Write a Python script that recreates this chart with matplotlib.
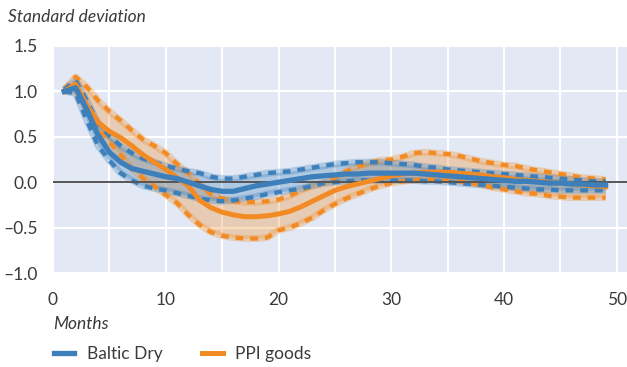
import numpy as np
import matplotlib.pyplot as plt

plt.rcParams['font.family'] = ['Lato', 'DejaVu Sans']

months = np.arange(1, 50)

# Baltic Dry index response: central estimate and band
bd_mid = [1.00, 1.04, 0.80, 0.52, 0.33, 0.22, 0.15, 0.12, 0.09, 0.06,
          0.04, 0.00, -0.04, -0.08, -0.10, -0.10, -0.07, -0.04, -0.02, 0.00,
          0.02, 0.04, 0.06, 0.07, 0.08, 0.09, 0.09, 0.10, 0.10, 0.10,
          0.10, 0.10, 0.09, 0.08, 0.07, 0.06, 0.05, 0.04, 0.03, 0.02,
          0.01, 0.01, 0.00, -0.01, -0.01, -0.02, -0.02, -0.03, -0.03]
bd_hi = [1.02, 1.12, 0.90, 0.65, 0.51, 0.40, 0.32, 0.26, 0.22, 0.18,
         0.15, 0.12, 0.10, 0.06, 0.04, 0.04, 0.06, 0.08, 0.10, 0.11,
         0.12, 0.14, 0.16, 0.18, 0.20, 0.21, 0.22, 0.22, 0.22, 0.21,
         0.20, 0.19, 0.17, 0.16, 0.14, 0.13, 0.12, 0.11, 0.10, 0.09,
         0.08, 0.07, 0.06, 0.05, 0.04, 0.03, 0.02, 0.01, 0.01]
bd_lo = [1.00, 0.98, 0.68, 0.40, 0.24, 0.10, 0.02, -0.04, -0.07, -0.09,
         -0.12, -0.15, -0.18, -0.20, -0.21, -0.20, -0.18, -0.16, -0.13, -0.11,
         -0.09, -0.07, -0.04, -0.01, 0.00, 0.01, 0.02, 0.02, 0.02, 0.02,
         0.02, 0.02, 0.01, 0.01, 0.00, -0.01, -0.02, -0.03, -0.04, -0.05,
         -0.06, -0.07, -0.08, -0.08, -0.09, -0.09, -0.09, -0.09, -0.09]

# PPI goods response
ppi_mid = [1.00, 1.08, 0.85, 0.66, 0.56, 0.49, 0.40, 0.30, 0.22, 0.14,
           0.05, -0.04, -0.20, -0.28, -0.33, -0.36, -0.38, -0.38, -0.37, -0.35,
           -0.32, -0.27, -0.21, -0.15, -0.09, -0.05, -0.02, 0.01, 0.04, 0.07,
           0.09, 0.10, 0.11, 0.11, 0.11, 0.10, 0.09, 0.08, 0.06, 0.05,
           0.03, 0.02, 0.01, 0.00, -0.01, -0.02, -0.03, -0.04, -0.05]
ppi_hi = [1.02, 1.16, 1.05, 0.90, 0.78, 0.68, 0.57, 0.47, 0.40, 0.32,
          0.20, 0.10, -0.02, -0.13, -0.18, -0.21, -0.22, -0.22, -0.21, -0.19,
          -0.15, -0.09, -0.04, -0.01, 0.05, 0.12, 0.17, 0.21, 0.24, 0.25,
          0.28, 0.32, 0.33, 0.32, 0.31, 0.29, 0.26, 0.23, 0.21, 0.19,
          0.18, 0.15, 0.13, 0.11, 0.09, 0.07, 0.05, 0.04, 0.03]
ppi_lo = [1.00, 1.00, 0.80, 0.60, 0.44, 0.30, 0.15, 0.04, -0.05, -0.14,
          -0.23, -0.36, -0.47, -0.55, -0.59, -0.61, -0.62, -0.62, -0.61, -0.53,
          -0.50, -0.45, -0.39, -0.31, -0.24, -0.18, -0.13, -0.08, -0.04, -0.01,
          0.01, 0.02, 0.03, 0.03, 0.02, 0.01, -0.01, -0.03, -0.06, -0.08,
          -0.10, -0.12, -0.13, -0.15, -0.16, -0.17, -0.17, -0.17, -0.17]

blue = '#3d7fba'
orange = '#f28b24'
txt = '#3a3a3a'

fig = plt.figure(figsize=(6.27, 3.67), dpi=100)
ax = fig.add_axes([53/627, 1 - 273/367, 1 - 53/627, (273 - 46)/367])
ax.set_facecolor('#e3e9f4')

dash = (0, (1.8, 1.6))
for mid, hi, lo, c in [(ppi_mid, ppi_hi, ppi_lo, orange), (bd_mid, bd_hi, bd_lo, blue)]:
    ax.fill_between(months, lo, hi, color=c, alpha=0.3, lw=0)
    ax.plot(months, hi, color=c, alpha=0.3, lw=5, solid_capstyle='butt')
    ax.plot(months, lo, color=c, alpha=0.3, lw=5, solid_capstyle='butt')
for mid, hi, lo, c in [(ppi_mid, ppi_hi, ppi_lo, orange), (bd_mid, bd_hi, bd_lo, blue)]:
    ax.plot(months, hi, color=c, lw=3.1, linestyle=dash)
    ax.plot(months, lo, color=c, lw=3.1, linestyle=dash)
ax.plot(months, ppi_mid, color=orange, lw=3.6, label='PPI goods', zorder=4)
ax.plot(months, bd_mid, color=blue, lw=3.8, label='Baltic Dry', zorder=5)

ax.axhline(0, color='#555555', lw=1.4, zorder=3)

ax.set_xlim(0, 50.9)
ax.set_ylim(-1.0, 1.5)
ax.set_xticks([0, 10, 20, 30, 40, 50])
ax.set_xticks(np.arange(5, 51, 10), minor=True)
ax.set_yticks(np.arange(-1.0, 1.51, 0.5))
ax.set_yticklabels([f'{v:.1f}'.replace('-', '\u2013') for v in np.arange(-1.0, 1.51, 0.5)])
ax.grid(True, which='both', color='white', lw=1.5)
ax.set_axisbelow(True)
ax.tick_params(which='both', length=0, labelsize=12.5, colors=txt)
ax.tick_params(axis='x', pad=14)
ax.tick_params(axis='y', pad=11)
for s in ax.spines.values():
    s.set_visible(False)

fig.text(8/627, 1 - 17/367, 'Standard deviation', style='italic', fontsize=12.5,
         color=txt, va='center', ha='left')
fig.text(53/627, 1 - 324/367, 'Months', style='italic', fontsize=12.5,
         color=txt, va='center', ha='left')

h, l = ax.get_legend_handles_labels()
fig.legend(h[::-1], l[::-1], loc='center left', bbox_to_anchor=(38/627, 1 - 354/367),
           ncol=2, frameon=False, fontsize=12.5, labelcolor=txt,
           handlelength=1.2, handletextpad=0.7, columnspacing=2.3)

fig.savefig('out.png', dpi=100)
